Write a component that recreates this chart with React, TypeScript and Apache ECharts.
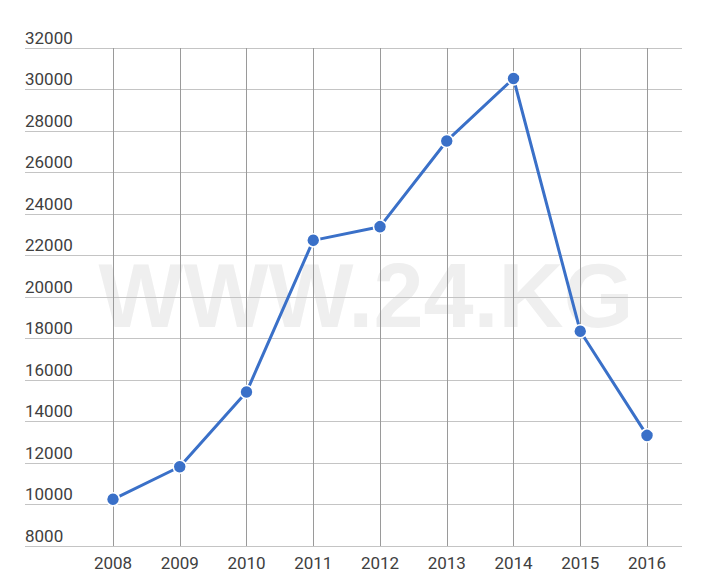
import React, { useEffect, useRef } from "react";
import * as echarts from "echarts";

const years = ["2008", "2009", "2010", "2011", "2012", "2013", "2014", "2015", "2016"];
const values = [10250, 11820, 15420, 22730, 23390, 27520, 30530, 18350, 13330];
const yMin = 8000;
const yMax = 32000;
const yStep = 2000;
const watermark = "WWW.24.KG";

export default function App() {
  const ref = useRef<HTMLDivElement>(null);
  useEffect(() => {
    if (!ref.current) return;
    const chart = echarts.init(ref.current, undefined, { renderer: "svg" });
    const font = "Roboto, 'Noto Sans', sans-serif";
    chart.setOption({
      animation: false,
      backgroundColor: "#ffffff",
      textStyle: { fontFamily: font },
      graphic: [
        {
          type: "text",
          z: -10,
          x: 366,
          y: 296,
          style: {
            text: watermark,
            fill: "#efefef",
            font: "bold 90px 'Liberation Sans', Arial, sans-serif",
            textAlign: "center",
            textVerticalAlign: "middle",
          },
        },
      ],
      grid: [
        { left: 25, right: 24, top: 48, bottom: 41 },
        { left: 113, right: 59, top: 48, bottom: 41 },
      ],
      xAxis: [
        { gridIndex: 0, type: "value", show: false },
        {
          gridIndex: 1,
          type: "category",
          data: years,
          boundaryGap: false,
          axisLine: { show: false },
          axisTick: { show: false },
          axisLabel: { color: "#404040", fontSize: 17, margin: 8, fontFamily: font },
          splitLine: { show: true, lineStyle: { color: "#9a9a9a", width: 1 } },
        },
      ],
      yAxis: [
        {
          gridIndex: 0,
          type: "value",
          min: yMin,
          max: yMax,
          interval: yStep,
          axisLine: { show: false },
          axisTick: { show: false },
          axisLabel: {
            inside: true,
            margin: 0,
            color: "#404040",
            fontSize: 17,
            fontFamily: font,
            verticalAlign: "bottom",
            padding: [0, 0, 2, 0],
            formatter: (v: number) => String(v),
          },
          splitLine: { show: true, lineStyle: { color: "#c4c4c4", width: 1 } },
        },
        {
          gridIndex: 1,
          type: "value",
          min: yMin,
          max: yMax,
          interval: yStep,
          show: false,
          splitLine: { show: false },
        },
      ],
      series: [
        {
          type: "line",
          xAxisIndex: 1,
          yAxisIndex: 1,
          data: values,
          symbol: "circle",
          symbolSize: 13,
          z: 5,
          lineStyle: { color: "#3a70c8", width: 3 },
          itemStyle: { color: "#3a70c8", borderColor: "#ffffff", borderWidth: 1.5 },
        },
      ],
    });
    return () => chart.dispose();
  }, []);
  return (
    <div
      ref={ref}
      style={{ position: "fixed", left: 0, top: 0, width: 706, height: 587 }}
    />
  );
}
